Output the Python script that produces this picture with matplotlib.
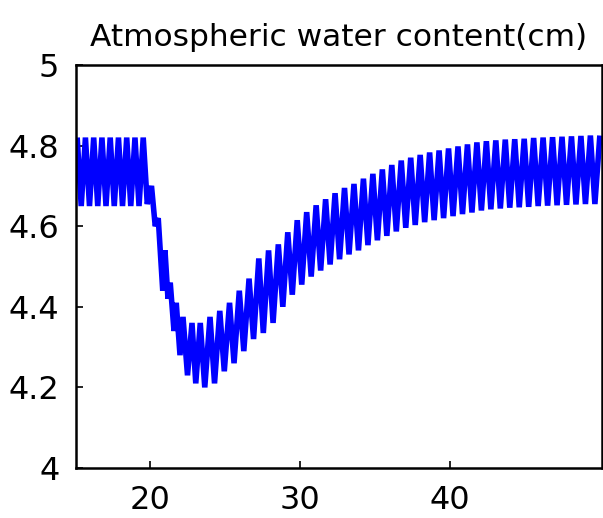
import numpy as np
import matplotlib.pyplot as plt

# turning points of the seasonal swing (time, cm)
high_t = [15.15, 15.70, 16.25, 16.80, 17.35, 17.90, 18.45, 19.00, 19.55,
          20.10, 20.55, 21.00, 21.35, 21.75, 22.20, 22.80, 23.35, 24.00,
          24.65, 25.30, 25.95, 26.60, 27.25, 27.90, 28.55, 29.18, 29.81,
          30.44, 31.07, 31.70, 32.33, 32.96, 33.59, 34.22, 34.85, 35.48,
          36.11, 36.74, 37.37, 38.00, 38.63, 39.26, 39.89, 40.52, 41.15,
          41.78, 42.41, 43.04, 43.67, 44.30, 44.93, 45.56, 46.19, 46.82,
          47.45, 48.08, 48.71, 49.34, 49.97]
high_v = [4.82, 4.82, 4.82, 4.82, 4.82, 4.82, 4.82, 4.82, 4.82,
          4.70, 4.62, 4.54, 4.46, 4.41, 4.375, 4.36, 4.36, 4.375,
          4.39, 4.41, 4.44, 4.47, 4.52, 4.54, 4.555, 4.585, 4.615,
          4.635, 4.652, 4.667, 4.682, 4.695, 4.705, 4.718, 4.730, 4.741,
          4.752, 4.763, 4.770, 4.777, 4.783, 4.788, 4.793, 4.798, 4.803,
          4.808, 4.811, 4.813, 4.815, 4.816, 4.817, 4.819, 4.820, 4.821,
          4.822, 4.823, 4.824, 4.825, 4.825]
low_t = [15.42, 15.97, 16.52, 17.07, 17.62, 18.17, 18.72, 19.27, 19.82,
         20.35, 20.85, 21.20, 21.60, 22.00, 22.50, 23.05, 23.65, 24.30,
         24.95, 25.60, 26.25, 26.90, 27.55, 28.20, 28.85, 29.48, 30.11,
         30.74, 31.37, 32.00, 32.63, 33.26, 33.89, 34.52, 35.15, 35.78,
         36.41, 37.04, 37.67, 38.30, 38.93, 39.56, 40.19, 40.82, 41.45,
         42.08, 42.71, 43.34, 43.97, 44.60, 45.23, 45.86, 46.49, 47.12,
         47.75, 48.38, 49.01, 49.64]
low_v = [4.65, 4.65, 4.65, 4.65, 4.65, 4.65, 4.65, 4.65, 4.655,
         4.60, 4.44, 4.42, 4.34, 4.28, 4.23, 4.21, 4.20, 4.21,
         4.24, 4.26, 4.29, 4.32, 4.335, 4.36, 4.40, 4.43, 4.455,
         4.475, 4.49, 4.505, 4.518, 4.53, 4.54, 4.553, 4.565, 4.576,
         4.587, 4.596, 4.603, 4.610, 4.615, 4.620, 4.625, 4.630, 4.634,
         4.639, 4.642, 4.644, 4.646, 4.647, 4.648, 4.650, 4.651, 4.652,
         4.653, 4.654, 4.655, 4.655]

x_ticks = [20, 30, 40]
y_ticks = [4, 4.2, 4.4, 4.6, 4.8, 5]
y_labels = ['4', '4.2', '4.4', '4.6', '4.8', '5']

t = np.concatenate([high_t, low_t])
w = np.concatenate([high_v, low_v])
order = np.argsort(t)
t, w = t[order], w[order]

fig = plt.figure(figsize=(6.03, 5.18), dpi=100)
ax = fig.add_axes([0.126, 0.0965, 0.872, 0.778])

ax.plot(t, w, color='#0000ff', linewidth=4.0, solid_joinstyle='bevel',
        solid_capstyle='butt')

ax.set_xlim(15.07, 50.1)
ax.set_ylim(4, 5)
ax.set_xticks(x_ticks)
ax.set_xticklabels([str(v) for v in x_ticks])
ax.set_yticks(y_ticks)
ax.set_yticklabels(y_labels)
ax.tick_params(direction='in', length=5, width=1.2, labelsize=23, pad=12)
for s in ax.spines.values():
    s.set_linewidth(1.8)
    s.set_zorder(3)

ax.set_title('Atmospheric water content(cm)', fontsize=22.5, pad=14)

fig.savefig('out.png', dpi=100)
